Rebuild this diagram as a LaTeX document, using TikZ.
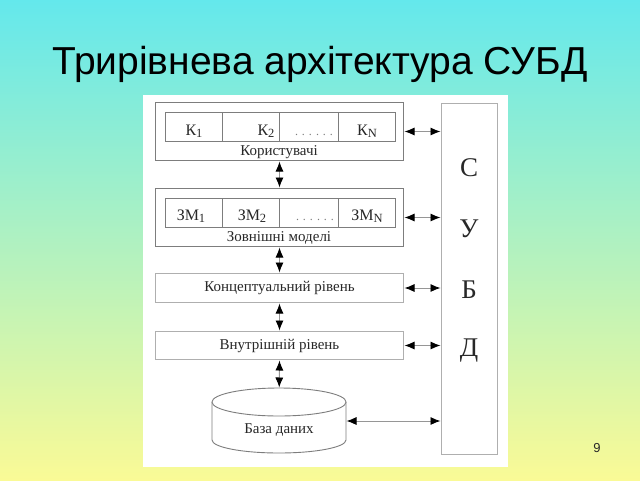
\documentclass[tikz,border=0pt]{standalone}
\usepackage{fontspec}
\setmainfont{Liberation Serif}
\newfontfamily\titlefont{Liberation Sans}
\usetikzlibrary{arrows.meta}
\definecolor{bgtop}{RGB}{100,232,236}
\definecolor{bgbot}{RGB}{250,250,150}
\definecolor{boxgray}{RGB}{125,125,125}
\definecolor{lightgray}{RGB}{175,175,175}
\definecolor{shaftgray}{RGB}{150,150,150}
\definecolor{txt}{RGB}{40,40,40}
\newcommand{\sbs}[1]{\raisebox{-2.5pt}{\fontsize{12.5}{14}\selectfont #1}}
\begin{document}
\begin{tikzpicture}[x=1pt,y=-1pt,
  box/.style={draw=boxgray, line width=1pt, fill=white, inner sep=0pt, anchor=north west},
  lbox/.style={draw=lightgray, line width=1pt, fill=white, inner sep=0pt, anchor=north west},
  cell/.style={draw=boxgray, line width=0.9pt, inner sep=0pt, anchor=north west, minimum height=29pt},
  lab/.style={text=txt, font=\fontsize{15}{17}\selectfont, inner sep=0pt},
  celltxt/.style={text=txt, font=\fontsize{16}{18}\selectfont, inner sep=0pt, anchor=base},
  big/.style={text=txt, font=\fontsize{27}{29}\selectfont, inner sep=0pt},
  dbl/.style={shaftgray, line width=0.9pt, {Latex[length=10pt,width=8pt,black]}-{Latex[length=10pt,width=8pt,black]}, shorten <=0.5pt, shorten >=0.5pt}
]
\useasboundingbox (0,0) rectangle (640,480);
\shade[top color=bgtop, bottom color=bgbot] (0,0) rectangle (640,480);
\node[font=\titlefont\fontsize{39}{44}\selectfont, anchor=base, inner sep=0pt] (title) at (320,74) {Трирівнева архітектура СУБД};
\node[fill=white, inner sep=0pt, anchor=north west, minimum width=365pt, minimum height=372pt] (panel) at (143,94.5) {};
\node[font=\titlefont\fontsize{13}{15}\selectfont, text=txt, anchor=base, inner sep=0pt] (num) at (597,452) {9};

% Users
\node[box, minimum width=248pt, minimum height=58pt] (users) at (155,102) {};
\node[cell, minimum width=57pt] (c1) at (165,112) {};
\node[cell, minimum width=57pt] (c2) at (222,112) {};
\node[cell, minimum width=59pt] (c3) at (279,112) {};
\node[cell, minimum width=57pt] (c4) at (338,112) {};
\node[celltxt] (k1) at (194,135) {К\sbs{1}};
\node[celltxt] (k2) at (266,135) {К\sbs{2}};
\node[celltxt, font=\fontsize{12}{14}\selectfont, text=boxgray] (d1) at (314,135) {. . . . . .};
\node[celltxt] (kn) at (367,135) {К\sbs{N}};
\node[lab] (ulab) at (279,152) {Користувачі};

% External
\node[box, minimum width=248pt, minimum height=58pt] (ext) at (155,188) {};
\node[cell, minimum width=57pt] (e1) at (165,198) {};
\node[cell, minimum width=57pt] (e2) at (222,198) {};
\node[cell, minimum width=59pt] (e3) at (279,198) {};
\node[cell, minimum width=57pt] (e4) at (338,198) {};
\node[celltxt] (m1) at (191,220) {ЗМ\sbs{1}};
\node[celltxt] (m2) at (252,220) {ЗМ\sbs{2}};
\node[celltxt, font=\fontsize{12}{14}\selectfont, text=boxgray] (d2) at (315,220) {. . . . . .};
\node[celltxt] (mn) at (367,220) {ЗМ\sbs{N}};
\node[lab] (elab) at (279,238) {Зовнішні моделі};

% Levels
\node[lbox, minimum width=248pt, minimum height=29pt, lab] (conc) at (155,273) {Концептуальний рівень};
\node[lbox, minimum width=248pt, minimum height=28pt, lab] (intl) at (155,331) {Внутрішній рівень};

% Database cylinder
\node[inner sep=0pt, anchor=north west, minimum width=134pt, minimum height=65pt] (db) at (212,388) {};
\draw[boxgray, line width=0.9pt, fill=white] (212,402) -- (212,440) arc[start angle=180, end angle=0, x radius=67, y radius=13] -- (346,402);
\draw[boxgray, line width=0.9pt, fill=white] (279,402) ellipse [x radius=67, y radius=14];
\node[lab] (dblab) at (279,430) {База даних};
\coordinate (dbE) at (346,421);

% DBMS
\node[lbox, minimum width=56pt, minimum height=351pt] (dbms) at (441,103) {};
\node[big] (s1) at (469,168) {С};
\node[big] (s2) at (469,229) {У};
\node[big] (s3) at (469,290) {Б};
\node[big] (s4) at (469,351) {Д};

% Arrows
\draw[dbl] (users.south) -- (ext.north);
\draw[dbl] (ext.south) -- (conc.north);
\draw[dbl] (conc.south) -- (intl.north);
\draw[dbl] (intl.south) -- (db.north);
\draw[dbl] (users.east) -- (users.east -| dbms.west);
\draw[dbl] (ext.east) -- (ext.east -| dbms.west);
\draw[dbl] (conc.east) -- (conc.east -| dbms.west);
\draw[dbl] (intl.east) -- (intl.east -| dbms.west);
\draw[dbl] (dbE) -- (dbE -| dbms.west);
\end{tikzpicture}
\end{document}
